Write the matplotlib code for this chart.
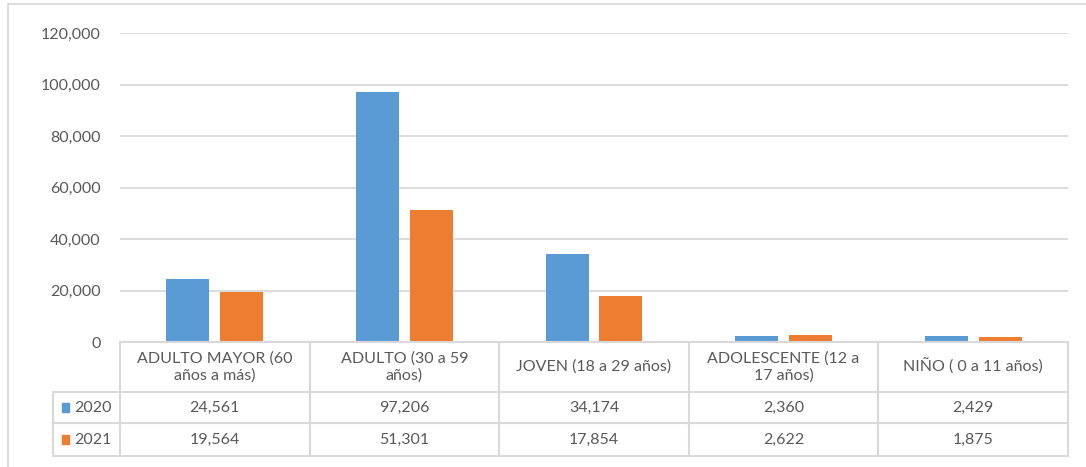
import matplotlib
matplotlib.use('Agg')
import matplotlib.pyplot as plt
from matplotlib.patches import Rectangle
import numpy as np

plt.rcParams['font.family'] = ['Lato', 'DejaVu Sans']

categories = ['ADULTO MAYOR (60\naños a más)', 'ADULTO (30 a 59\naños)',
              'JOVEN (18 a 29 años)', 'ADOLESCENTE (12 a\n17 años)', 'NIÑO ( 0 a 11 años)']
series = ['2020', '2021']
v2020 = [24561, 97206, 34174, 2360, 2429]
v2021 = [19564, 51301, 17854, 2622, 1875]

BLUE = '#5B9BD5'
ORANGE = '#ED7D31'
GRID = '#D9D9D9'
TXT = '#595959'
FS = 11.5

W, H = 1086, 467
fig = plt.figure(figsize=(W / 100, H / 100), dpi=100)

# outer chart border
fig.patches.append(Rectangle((8 / W, -0.1), 1.2, (H - 4) / H + 0.1, transform=fig.transFigure,
                             fill=False, edgecolor=GRID, linewidth=1.3))

x0, x1 = 120, 1068
y_top, y_zero = 33, 342
ax = fig.add_axes([x0 / W, (H - y_zero) / H, (x1 - x0) / W, (y_zero - y_top) / H])
x = np.arange(len(categories))
bw, off = 0.226, 0.142
ax.bar(x - off, v2020, bw, color=BLUE, zorder=3)
ax.bar(x + off, v2021, bw, color=ORANGE, zorder=3)
ax.set_xlim(-0.5, len(categories) - 0.5)
ax.set_ylim(0, 120000)
ax.set_yticks(np.arange(0, 120001, 20000))
ax.yaxis.set_major_formatter(matplotlib.ticker.FuncFormatter(lambda v, p: f'{v:,.0f}'))
ax.tick_params(axis='y', length=0, pad=14, labelsize=FS, labelcolor=TXT)
ax.set_xticks([])
ax.grid(axis='y', color=GRID, linewidth=1.3, zorder=0)
for s in ax.spines.values():
    s.set_visible(False)

# data table below the plot
rows = [0, 50, 81, 114]
tab = fig.add_axes([x0 / W, (H - y_zero - rows[-1]) / H, (x1 - x0) / W, rows[-1] / H])
tab.set_xlim(-0.5, len(categories) - 0.5)
tab.set_ylim(rows[-1], 0)
tab.axis('off')
leg_left = -0.5 - (x0 - 53) / ((x1 - x0) / len(categories))
kw = dict(color=GRID, linewidth=1.5, clip_on=False)
tab.plot([-0.5, len(categories) - 0.5], [rows[0]] * 2, **kw)
for r in rows[1:]:
    tab.plot([leg_left, len(categories) - 0.5], [r, r], **kw)
for i in range(len(categories) + 1):
    tab.plot([i - 0.5] * 2, [rows[0], rows[-1]], **kw)
tab.plot([leg_left] * 2, [rows[1], rows[-1]], **kw)

for i, c in enumerate(categories):
    tab.text(i, (rows[0] + rows[1]) / 2, c, ha='center', va='center', fontsize=FS,
             color=TXT, linespacing=1.3)
for k, (name, vals, col) in enumerate([(series[0], v2020, BLUE), (series[1], v2021, ORANGE)]):
    yc = (rows[k + 1] + rows[k + 2]) / 2
    for i, v in enumerate(vals):
        tab.text(i, yc, f'{v:,}', ha='center', va='center', fontsize=FS, color=TXT)
    tab.add_patch(Rectangle((leg_left + 0.045, yc - 4.5), 0.04, 9, color=col, clip_on=False))
    tab.text(leg_left + 0.11, yc, name, ha='left', va='center', fontsize=FS, color=TXT)

fig.savefig('out.png', dpi=100)
